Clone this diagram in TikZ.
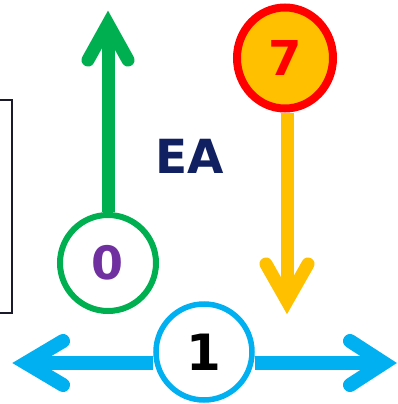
\documentclass[tikz,border=0pt]{standalone}
\usepackage{fontspec}
\setmainfont{DejaVu Sans}
\usetikzlibrary{shapes.geometric}
\definecolor{cgreen}{HTML}{00B050}
\definecolor{cpurple}{HTML}{7030A0}
\definecolor{corange}{HTML}{FFC000}
\definecolor{cred}{HTML}{FF0000}
\definecolor{cblue}{HTML}{00B0F0}
\definecolor{cnavy}{HTML}{102060}
\definecolor{cframe}{HTML}{1A1A2A}
\begin{document}
\begin{tikzpicture}[x=1pt,y=-1pt,
  shaft/.style={line width=13pt},
  barb/.style={line width=13pt,line cap=round,line join=miter,miter limit=20},
  bigfont/.style={font=\bfseries\fontsize{#1}{#1}\selectfont},
  ring/.style={circle,inner sep=0pt,minimum size=96pt,fill=white}]
\useasboundingbox[fill=white] (0,0) rectangle (397,404);
\clip (0,0) rectangle (397,404);
\draw[cframe,line width=1.5pt] (-20,100) rectangle (12,313);
% nodes
\node[ring,draw=cgreen,line width=6pt,text=cpurple,bigfont=46] (g0) at (108,263) {0};
\node[ellipse,inner sep=0pt,draw=cred,line width=8pt,fill=corange,minimum width=96pt,minimum height=101pt,text=cred,bigfont=48] (r7) at (285,58) {7};
\node[ring,draw=cblue,line width=5.5pt,text=black,bigfont=50] (b1) at (204,352) {1};
\node[text=cnavy,bigfont=47,inner sep=0pt] (ea) at (190,156) {EA};
% green arrow
\coordinate (gv) at (108,24);
\coordinate (gb1) at (88,60);
\coordinate (gb2) at (128,60);
\draw[shaft,cgreen] (g0.north) -- (gv);
\draw[barb,cgreen] (gb1) -- (gv) -- (gb2);
% orange arrow
\coordinate (ov) at (287,301);
\coordinate (ob1) at (266,264);
\coordinate (ob2) at (308,264);
\draw[shaft,corange] (r7.south -| ov) -- (ov);
\draw[barb,corange] (ob1) -- (ov) -- (ob2);
% blue double arrow
\coordinate (lv) at (26,363);
\coordinate (lb1) at (63,341);
\coordinate (lb2) at (63,385);
\coordinate (rv) at (384,363);
\coordinate (rb1) at (350,341);
\coordinate (rb2) at (350,385);
\draw[shaft,cblue,line width=14pt] (lv) -- (lv -| b1.west);
\draw[shaft,cblue,line width=14pt] (rv -| b1.east) -- (rv);
\draw[barb,cblue,line width=14pt] (lb1) -- (lv) -- (lb2);
\draw[barb,cblue,line width=14pt] (rb1) -- (rv) -- (rb2);
\end{tikzpicture}
\end{document}
